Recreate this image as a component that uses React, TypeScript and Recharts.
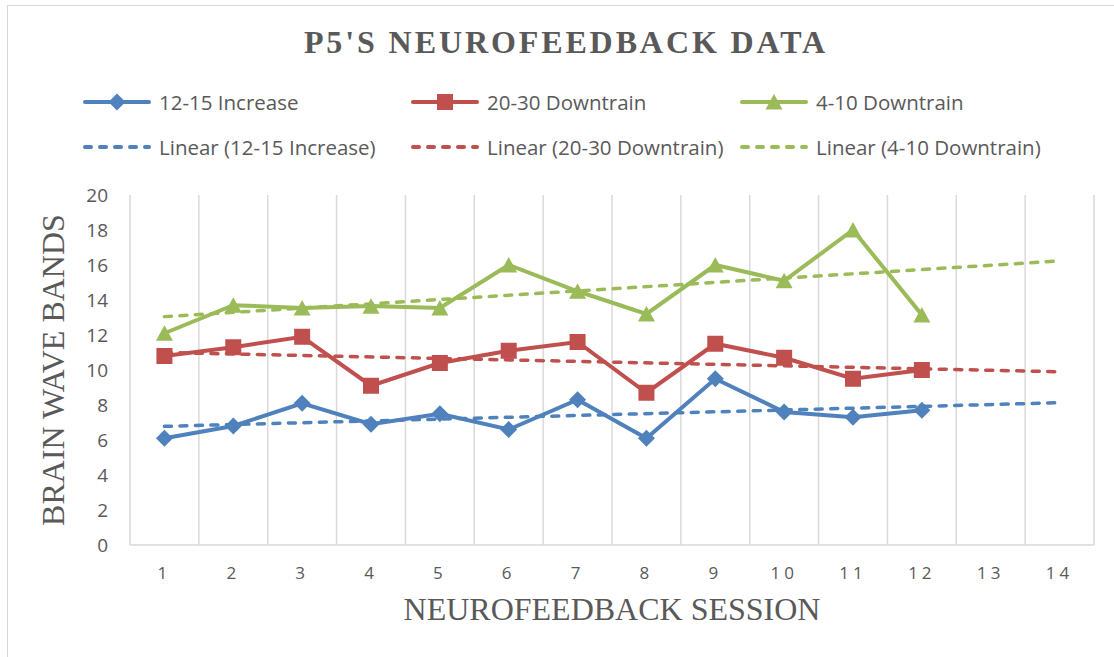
import { LineChart, Line, XAxis, YAxis, CartesianGrid, Legend, Label } from 'recharts';

// values
const sessions = ['1', '2', '3', '4', '5', '6', '7', '8', '9', '10', '11', '12', '13', '14'];
const increase1215 = [6.1, 6.8, 8.1, 6.9, 7.5, 6.6, 8.3, 6.1, 9.5, 7.6, 7.3, 7.7];
const downtrain2030 = [10.8, 11.3, 11.9, 9.1, 10.4, 11.1, 11.6, 8.7, 11.5, 10.7, 9.5, 10.0];
const downtrain410 = [12.1, 13.7, 13.55, 13.65, 13.55, 16.0, 14.5, 13.2, 16.0, 15.1, 18.0, 13.15];

// linear trendlines (Excel, forecast 2 periods forward): start / end values
const trendSessions = ['1', '14'];
const trend1215 = [6.78, 8.13];
const trend2030 = [11.0, 9.9];
const trend410 = [13.05, 16.23];

const yTicks = [0, 2, 4, 6, 8, 10, 12, 14, 16, 18, 20];

const BLUE = '#4f81bd';
const RED = '#c0504d';
const GREEN = '#9bbb59';
const TEXT = '#595959';
const GRID = '#d9d9d9';
const SANS = '"Open Sans", sans-serif';
const SERIF = '"Liberation Serif", "Times New Roman", serif';
const DASH = '7 8.5';

const rows = sessions.map((s, i) => {
  const t = trendSessions.indexOf(s);
  return {
    session: s,
    inc: i < increase1215.length ? increase1215[i] : null,
    d2030: i < downtrain2030.length ? downtrain2030[i] : null,
    d410: i < downtrain410.length ? downtrain410[i] : null,
    incTrend: t >= 0 ? trend1215[t] : null,
    d2030Trend: t >= 0 ? trend2030[t] : null,
    d410Trend: t >= 0 ? trend410[t] : null,
  };
});

function Marker({ kind, cx, cy, fill }: { kind: string; cx: number; cy: number; fill: string }) {
  if (kind === 'diamond') {
    return <polygon points={`${cx},${cy - 8.5} ${cx + 8.5},${cy} ${cx},${cy + 8.5} ${cx - 8.5},${cy}`} fill={fill} />;
  }
  if (kind === 'square') {
    return <rect x={cx - 8} y={cy - 8} width={16} height={16} fill={fill} />;
  }
  return <polygon points={`${cx},${cy - 8} ${cx + 8.5},${cy + 7.5} ${cx - 8.5},${cy + 7.5}`} fill={fill} />;
}

const dotFor = (kind: string, fill: string) => (props: any) => {
  const { cx, cy, index, value } = props;
  if (cx == null || cy == null || value == null) return <g key={`${kind}-${index}`} />;
  return (
    <g key={`${kind}-${index}`}>
      <Marker kind={kind} cx={cx} cy={cy} fill={fill} />
    </g>
  );
};

const legendCols = [82, 410, 739];
const legendRows = [102, 147];
const legendItems = [
  { label: '12-15 Increase', color: BLUE, marker: 'diamond', dashed: false },
  { label: '20-30 Downtrain', color: RED, marker: 'square', dashed: false },
  { label: '4-10 Downtrain', color: GREEN, marker: 'triangle', dashed: false },
  { label: 'Linear (12-15 Increase)', color: BLUE, marker: '', dashed: true },
  { label: 'Linear (20-30 Downtrain)', color: RED, marker: '', dashed: true },
  { label: 'Linear (4-10 Downtrain)', color: GREEN, marker: '', dashed: true },
];

function ChartLegend() {
  return (
    <div style={{ position: 'relative', width: 1114, height: 0 }}>
      {legendItems.map((item, i) => (
        <div
          key={item.label}
          style={{
            position: 'absolute',
            left: legendCols[i % 3],
            top: legendRows[Math.floor(i / 3)] - 15,
            height: 30,
            display: 'flex',
            alignItems: 'center',
            whiteSpace: 'nowrap',
          }}
        >
          <svg width={70} height={30}>
            <line
              x1={3}
              x2={67}
              y1={15}
              y2={15}
              stroke={item.color}
              strokeWidth={item.dashed ? 4 : 4}
              strokeDasharray={item.dashed ? '6 9' : undefined}
              strokeLinecap="round"
            />
            {item.marker && <Marker kind={item.marker} cx={35} cy={15} fill={item.color} />}
          </svg>
          <span style={{ marginLeft: 7, fontFamily: SANS, fontSize: 20.5, color: TEXT }}>{item.label}</span>
        </div>
      ))}
    </div>
  );
}

export default function App() {
  return (
    <div style={{ position: 'absolute', left: 0, top: 0, width: 1114, height: 657, overflow: 'hidden', background: '#fff' }}>
      <div style={{ position: 'absolute', left: 7, top: 5, width: 1200, height: 800, border: `1.5px solid ${GRID}` }} />
      <div
        style={{
          position: 'absolute',
          left: 0,
          top: 26,
          width: 1132,
          textAlign: 'center',
          fontFamily: SERIF,
          fontWeight: 700,
          fontSize: 32,
          lineHeight: 1,
          letterSpacing: 2.9,
          color: TEXT,
          whiteSpace: 'nowrap',
        }}
      >
        P5'S NEUROFEEDBACK DATA
      </div>
      <div style={{ position: 'absolute', left: 0, top: 0 }}>
        <LineChart width={1114} height={657} data={rows} margin={{ top: 195, right: 20, bottom: 0, left: 0 }}>
          <CartesianGrid
            horizontal={false}
            stroke={GRID}
            strokeWidth={1.5}
            verticalCoordinatesGenerator={({ offset }: any) => {
              const left = offset?.left ?? 130;
              const w = offset?.width ?? 964;
              return Array.from({ length: sessions.length + 1 }, (_, i) => left + (i * w) / sessions.length);
            }}
          />
          <XAxis
            dataKey="session"
            height={112}
            interval={0}
            padding={{ left: 34.43, right: 34.43 }}
            axisLine={{ stroke: GRID, strokeWidth: 1.5 }}
            tickLine={false}
            tickSize={0}
            tickMargin={22}
            tick={{ fill: TEXT, fontSize: 17, fontFamily: SANS, letterSpacing: 4 }}
          >
            <Label
              content={({ viewBox }: any) => (
                <text
                  x={viewBox.x + viewBox.width / 2}
                  y={viewBox.y + 75}
                  textAnchor="middle"
                  fill={TEXT}
                  fontFamily={SERIF}
                  fontSize={32}
                >
                  NEUROFEEDBACK SESSION
                </text>
              )}
            />
          </XAxis>
          <YAxis
            width={130}
            domain={[0, 20]}
            ticks={yTicks}
            interval={0}
            axisLine={false}
            tickLine={false}
            tickSize={0}
            tickMargin={22}
            tick={{ fill: TEXT, fontSize: 19, fontFamily: SANS }}
          >
            <Label
              content={({ viewBox }: any) => {
                const x = viewBox.x + 64;
                const y = viewBox.y + viewBox.height / 2;
                return (
                  <text
                    x={x}
                    y={y}
                    transform={`rotate(-90, ${x}, ${y})`}
                    textAnchor="middle"
                    fill={TEXT}
                    fontFamily={SERIF}
                    fontSize={32}
                  >
                    BRAIN WAVE BANDS
                  </text>
                );
              }}
            />
          </YAxis>
          <Legend
            verticalAlign="middle"
            align="center"
            content={() => <ChartLegend />}
            wrapperStyle={{ left: 0, top: 0, width: 1114, height: 0 }}
          />
          <Line dataKey="incTrend" name="Linear (12-15 Increase)" stroke={BLUE} strokeWidth={3.5} strokeDasharray={DASH} strokeLinecap="round" dot={false} activeDot={false} connectNulls isAnimationActive={false} />
          <Line dataKey="d2030Trend" name="Linear (20-30 Downtrain)" stroke={RED} strokeWidth={3.5} strokeDasharray={DASH} strokeLinecap="round" dot={false} activeDot={false} connectNulls isAnimationActive={false} />
          <Line dataKey="d410Trend" name="Linear (4-10 Downtrain)" stroke={GREEN} strokeWidth={3.5} strokeDasharray={DASH} strokeLinecap="round" dot={false} activeDot={false} connectNulls isAnimationActive={false} />
          <Line dataKey="inc" name="12-15 Increase" stroke={BLUE} strokeWidth={4} dot={dotFor('diamond', BLUE)} activeDot={false} isAnimationActive={false} />
          <Line dataKey="d2030" name="20-30 Downtrain" stroke={RED} strokeWidth={4} dot={dotFor('square', RED)} activeDot={false} isAnimationActive={false} />
          <Line dataKey="d410" name="4-10 Downtrain" stroke={GREEN} strokeWidth={4} dot={dotFor('triangle', GREEN)} activeDot={false} isAnimationActive={false} />
        </LineChart>
      </div>
    </div>
  );
}
